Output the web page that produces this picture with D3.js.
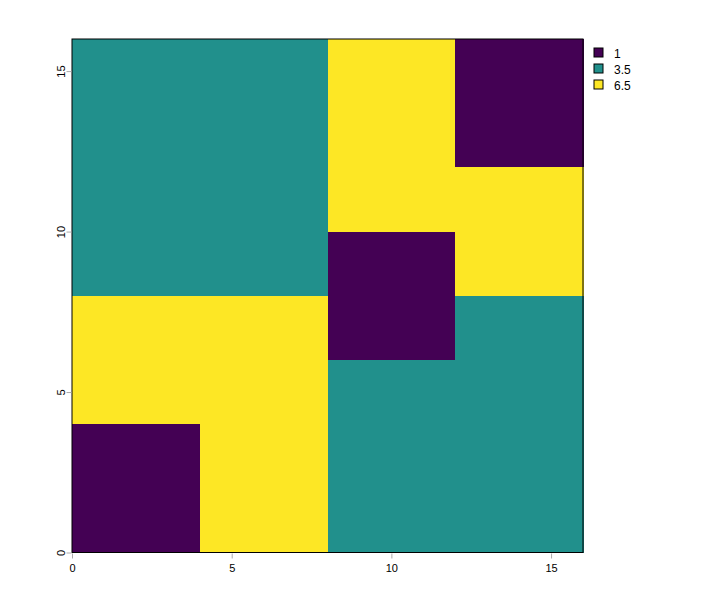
<!DOCTYPE html>
<html><head><meta charset="utf-8">
<script src="https://cdn.jsdelivr.net/npm/d3@7"></script>
<style>body{margin:0;background:#fff}svg{display:block}text{font-family:"Liberation Sans",Arial,sans-serif}</style>
</head><body>
<script>
// 8x8 raster of 2x2 cells; rows listed top (y 14-16) to bottom (y 0-2)
const cellSize = 2;
const gridRows = [
  [3.5,3.5,3.5,3.5,6.5,6.5,1,1],
  [3.5,3.5,3.5,3.5,6.5,6.5,1,1],
  [3.5,3.5,3.5,3.5,6.5,6.5,6.5,6.5],
  [3.5,3.5,3.5,3.5,1,1,6.5,6.5],
  [6.5,6.5,6.5,6.5,1,1,3.5,3.5],
  [6.5,6.5,6.5,6.5,3.5,3.5,3.5,3.5],
  [1,1,6.5,6.5,3.5,3.5,3.5,3.5],
  [1,1,6.5,6.5,3.5,3.5,3.5,3.5]
];
const levels = [1, 3.5, 6.5];
const levelColors = ["#440154", "#21908C", "#FDE725"];
const xTicks = [0, 5, 10, 15];
const yTicks = [0, 5, 10, 15];

const W = 712, H = 591;
const svg = d3.select("body").append("svg").attr("width", W).attr("height", H);
const x = d3.scaleLinear().domain([0, 16]).range([72, 583]);
const y = d3.scaleLinear().domain([0, 16]).range([552.5, 39]);
const color = d3.scaleOrdinal().domain(levels).range(levelColors);

const cells = [];
const nR = gridRows.length;
gridRows.forEach((row, r) => row.forEach((v, c) => {
  cells.push({x0: c * cellSize, y0: (nR - 1 - r) * cellSize, v});
}));
svg.append("g").selectAll("rect").data(cells).join("rect")
  .attr("x", d => x(d.x0))
  .attr("y", d => y(d.y0 + cellSize))
  .attr("width", d => x(d.x0 + cellSize) - x(d.x0) + 0.5)
  .attr("height", d => y(d.y0) - y(d.y0 + cellSize) + 0.5)
  .attr("fill", d => color(d.v))
  .attr("shape-rendering", "crispEdges");

svg.append("rect").attr("x", x(0)).attr("y", y(16)).attr("width", x(16) - x(0)).attr("height", y(0) - y(16))
  .attr("fill", "none").attr("stroke", "#000").attr("stroke-width", 1);

const xa = svg.append("g").attr("transform", `translate(0,${y(0) + 1})`)
  .call(d3.axisBottom(x).tickValues(xTicks).tickSize(5).tickPadding(6).tickFormat(d3.format("d")));
const ya = svg.append("g").attr("transform", `translate(${x(0) - 0.5},0)`)
  .call(d3.axisLeft(y).tickValues(yTicks).tickSize(5).tickPadding(4).tickFormat(d3.format("d")));
[xa, ya].forEach(a => {
  a.select(".domain").remove();
  a.selectAll("line").attr("stroke", "#aaa");
  a.selectAll("text").attr("font-size", 11).attr("fill", "#000").style("font-family", "Liberation Sans, Arial, sans-serif");
});
ya.selectAll("text").attr("transform", "rotate(-90)").attr("x", 0).attr("y", -7)
  .attr("text-anchor", "middle").attr("dy", 0);

const leg = svg.append("g");
levels.forEach((l, i) => {
  const g = leg.append("g").attr("transform", `translate(594,${48 + i * 16})`);
  g.append("rect").attr("width", 9).attr("height", 9).attr("fill", levelColors[i]).attr("stroke", "#000");
  g.append("text").attr("x", 20).attr("y", 9.5).attr("font-size", 12).attr("fill", "#000").text(l);
});
</script>
</body></html>
